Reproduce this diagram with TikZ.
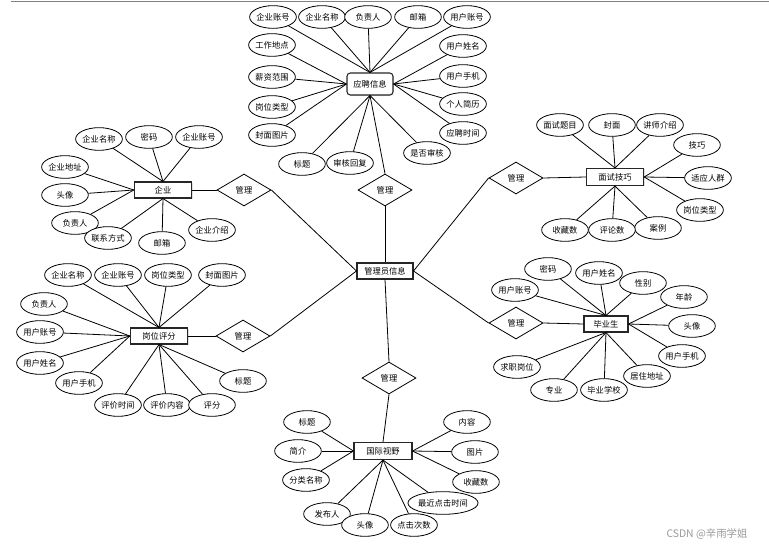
\documentclass[tikz,border=0pt]{standalone}
\usepackage{fontspec}
\newfontfamily\cjk{Noto Sans CJK SC}
\usetikzlibrary{shapes.geometric,shadows}
\tikzset{
  attr/.style={draw=black, line width=0.6pt, ellipse, fill=white, inner sep=0pt,
    minimum width=35pt, minimum height=17pt, font=\cjk\fontsize{6.2}{7}\selectfont},
  ent/.style={draw=black!85, line width=0.8pt, rectangle, fill=white, inner sep=0pt,
    minimum height=12pt, font=\cjk\fontsize{6.2}{7}\selectfont,
    drop shadow={shadow xshift=0.7pt, shadow yshift=-0.7pt, fill=black!25}},
  rel/.style={draw=black, line width=0.6pt, diamond, aspect=1.7, fill=white, inner sep=0pt,
    minimum width=40.5pt, minimum height=24pt, font=\cjk\fontsize{6.2}{7}\selectfont},
  conn/.style={draw=black, line width=0.6pt}
}
\begin{document}
\begin{tikzpicture}[x=0.75pt,y=-0.75pt]
\useasboundingbox (0,0) rectangle (769,549);
\coordinate (tl) at (11,1.5);
\coordinate (tr) at (769,1.5);
\draw[gray, line width=1.3pt] (tl) -- (tr);

% entities
\node[ent, rounded corners=2.5pt, minimum width=34.5pt, minimum height=16.5pt] (yp) at (370,84) {应聘信息};
\node[ent, minimum width=43pt] (qy) at (163,190) {企业};
\node[ent, minimum width=43pt] (gw) at (159,336) {岗位评分};
\node[ent, minimum width=42pt] (gl) at (385,271) {管理员信息};
\node[ent, minimum width=43.5pt, minimum height=12.8pt] (gj) at (383,451) {国际视野};
\node[ent, minimum width=33pt] (by) at (606,324) {毕业生};
\node[ent, minimum width=43pt, minimum height=12.8pt] (ms) at (615,177) {面试技巧};

% relationships
\node[rel] (d1) at (385,190) {管理};
\node[rel] (d2) at (244,190) {管理};
\node[rel] (d3) at (243,336) {管理};
\node[rel] (d4) at (516,178) {管理};
\node[rel] (d5) at (516,323) {管理};
\node[rel] (d6) at (389,378) {管理};

\draw[conn] (d1.south) -- (gl.north);
\draw[conn] (d2.east) -- (gl.west);
\draw[conn] (d3.east) -- (gl.west);
\draw[conn] (d4.west) -- (gl.east);
\draw[conn] (d5.west) -- (gl.east);
\draw[conn] (d6.north) -- (gl.south);
\draw[conn] (d1.north) -- (yp.south);
\draw[conn] (d2.west) -- (qy.east);
\draw[conn] (d3.west) -- (gw.east);
\draw[conn] (d4.east) -- (ms.west);
\draw[conn] (d5.east) -- (by.west);
\draw[conn] (d6.south) -- (gj.north);

% 应聘信息 attributes
\node[attr] (yp1) at (273,17) {企业账号};
\node[attr] (yp2) at (322,17) {企业名称};
\node[attr] (yp3) at (368,17) {负责人};
\node[attr] (yp4) at (418,17) {邮箱};
\node[attr] (yp5) at (467,17) {用户账号};
\node[attr] (yp6) at (272,45) {工作地点};
\node[attr] (yp7) at (463,46) {用户姓名};
\node[attr] (yp8) at (272,77) {薪资范围};
\node[attr] (yp9) at (463,76) {用户手机};
\node[attr] (yp10) at (272,107) {岗位类型};
\node[attr] (yp11) at (463,104) {个人简历};
\node[attr] (yp12) at (272,135) {封面图片};
\node[attr] (yp13) at (463,133) {应聘时间};
\node[attr] (yp14) at (302,164) {标题};
\node[attr] (yp15) at (350,163) {审核回复};
\node[attr] (yp16) at (427,153) {是否审核};
\foreach \n in {1,2,3,4,5} \draw[conn] (yp\n) -- (yp.north);
\foreach \n in {6,8,10,12} \draw[conn] (yp\n) -- (yp.west);
\foreach \n in {7,9,11,13} \draw[conn] (yp\n) -- (yp.east);
\foreach \n in {14,15,16} \draw[conn] (yp\n) -- (yp.south);

% 企业 attributes
\node[attr] (qy1) at (99,139) {企业名称};
\node[attr] (qy2) at (149,137) {密码};
\node[attr] (qy3) at (199,137) {企业账号};
\node[attr] (qy4) at (65,167) {企业地址};
\node[attr] (qy5) at (65,195) {头像};
\node[attr] (qy6) at (75,223) {负责人};
\node[attr] (qy7) at (108,238) {联系方式};
\node[attr] (qy8) at (162,243) {邮箱};
\node[attr] (qy9) at (212,230) {企业介绍};
\foreach \n in {1,2,3} \draw[conn] (qy\n) -- (qy.north);
\foreach \n in {4,5,6} \draw[conn] (qy\n) -- (qy.west);
\foreach \n in {7,8,9} \draw[conn] (qy\n) -- (qy.south);

% 岗位评分 attributes
\node[attr] (gw1) at (68,275) {企业名称};
\node[attr] (gw2) at (118,275) {企业账号};
\node[attr] (gw3) at (168,275) {岗位类型};
\node[attr] (gw4) at (222,275) {封面图片};
\node[attr] (gw5) at (44,304) {负责人};
\node[attr] (gw6) at (40,332) {用户账号};
\node[attr] (gw7) at (40,363) {用户姓名};
\node[attr] (gw8) at (79,383) {用户手机};
\node[attr] (gw9) at (118,405) {评价时间};
\node[attr] (gw10) at (167,405) {评价内容};
\node[attr] (gw11) at (212,405) {评分};
\node[attr] (gw12) at (243,381) {标题};
\foreach \n in {1,2,3,4} \draw[conn] (gw\n) -- (gw.north);
\foreach \n in {5,6,7,8} \draw[conn] (gw\n) -- (gw.west);
\foreach \n in {9,10,11,12} \draw[conn] (gw\n) -- (gw.south);

% 毕业生 attributes
\node[attr] (by1) at (548,269) {密码};
\node[attr] (by2) at (599,273) {用户姓名};
\node[attr] (by3) at (515,290) {用户账号};
\node[attr] (by4) at (643,283) {性别};
\node[attr] (by5) at (684,297) {年龄};
\node[attr] (by6) at (692,326) {头像};
\node[attr] (by7) at (682,356) {用户手机};
\node[attr] (by8) at (647,376) {居住地址};
\node[attr] (by9) at (604,390) {毕业学校};
\node[attr] (by10) at (554,390) {专业};
\node[attr] (by11) at (517,367) {求职岗位};
\foreach \n in {1,2,3,4} \draw[conn] (by\n) -- (by.north);
\foreach \n in {5,6,7} \draw[conn] (by\n) -- (by.east);
\foreach \n in {8,9,10,11} \draw[conn] (by\n) -- (by.south);

% 面试技巧 attributes
\node[attr] (ms1) at (560,125) {面试题目};
\node[attr] (ms2) at (612,125) {封面};
\node[attr] (ms3) at (660,125) {讲师介绍};
\node[attr] (ms4) at (697,145) {技巧};
\node[attr] (ms5) at (708,178) {适应人群};
\node[attr] (ms6) at (700,210) {岗位类型};
\node[attr] (ms7) at (658,228) {案例};
\node[attr] (ms8) at (612,230) {评论数};
\node[attr] (ms9) at (565,230) {收藏数};
\foreach \n in {1,2,3} \draw[conn] (ms\n) -- (ms.north);
\foreach \n in {4,5,6} \draw[conn] (ms\n) -- (ms.east);
\foreach \n in {7,8,9} \draw[conn] (ms\n) -- (ms.south);

% 国际视野 attributes
\node[attr] (gj1) at (307,422) {标题};
\node[attr] (gj2) at (298,451) {简介};
\node[attr] (gj3) at (306,480) {分类名称};
\node[attr] (gj4) at (327,514) {发布人};
\node[attr] (gj5) at (365,525) {头像};
\node[attr] (gj6) at (414,525) {点击次数};
\node[attr, minimum width=50pt] (gj7) at (443,503) {最近点击时间};
\node[attr] (gj8) at (476,482) {收藏数};
\node[attr] (gj9) at (475,452) {图片};
\node[attr] (gj10) at (467,422) {内容};
\foreach \n in {1,2,3} \draw[conn] (gj\n) -- (gj.west);
\foreach \n in {4,5,6,7} \draw[conn] (gj\n) -- (gj.south);
\foreach \n in {8,9,10} \draw[conn] (gj\n) -- (gj.east);

\node[text=black!40, font=\cjk\fontsize{7.8}{9}\selectfont] (wm) at (707,534) {CSDN @辛雨学姐};
\end{tikzpicture}
\end{document}
